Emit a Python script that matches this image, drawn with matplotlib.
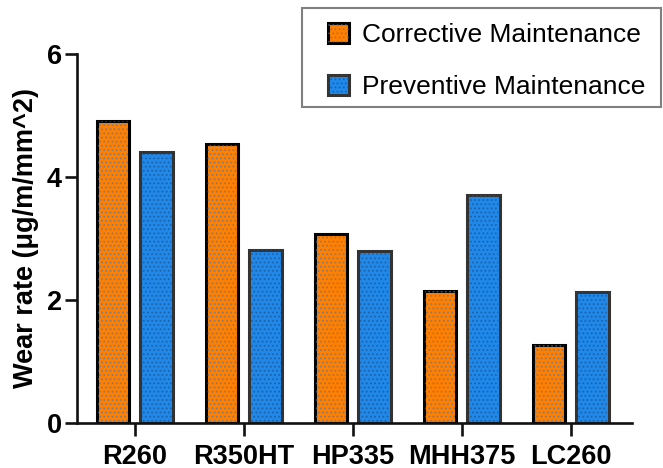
import matplotlib
matplotlib.use("Agg")
import matplotlib.pyplot as plt
from matplotlib.patches import Rectangle
import numpy as np

plt.rcParams['font.family'] = ['Liberation Sans', 'DejaVu Sans']
plt.rcParams['hatch.linewidth'] = 0.8

rails = ["R260", "R350HT", "HP335", "MHH375", "LC260"]
corrective = [4.91, 4.54, 3.07, 2.15, 1.27]
preventive = [4.41, 2.81, 2.79, 3.71, 2.13]

ORANGE = "#FF7F00"
BLUE = "#2088E8"

fig = plt.figure(figsize=(6.63, 4.68), dpi=100)
ax = fig.add_axes([0.1166, 0.0968, 0.8362, 0.7878])

x = np.arange(len(rails))
w = 0.295
off = 0.2

# solid bars with outlines
b1 = ax.bar(x - off, corrective, w, color=ORANGE, edgecolor="#000000",
            linewidth=2.2, zorder=2)
b2 = ax.bar(x + off, preventive, w, color=BLUE, edgecolor="#333333",
            linewidth=2.2, zorder=2)
# dotted texture on top (hatch colour follows edgecolor)
h1 = ax.bar(x - off, corrective, w - 0.02, facecolor="none", edgecolor="#4f78a8",
            linewidth=0, hatch="....", zorder=3, alpha=0.6)
h2 = ax.bar(x + off, preventive, w - 0.02, facecolor="none", edgecolor="#1d4f88",
            linewidth=0, hatch="....", zorder=3, alpha=0.6)

ax.set_xlim(-0.527, 4.56)
ax.set_ylim(0, 6)
ax.set_yticks([0, 2, 4, 6])
ax.set_xticks(x)
ax.set_xticklabels(rails)

for s in ["top", "right"]:
    ax.spines[s].set_visible(False)
for s in ["left", "bottom"]:
    ax.spines[s].set_linewidth(1.9)
    ax.spines[s].set_color("#111111")

ax.tick_params(axis="both", length=9, width=1.9, color="#111111", labelsize=19.5)
ax.tick_params(axis="x", pad=6)
ax.tick_params(axis="y", pad=2)
for lab in ax.get_xticklabels() + ax.get_yticklabels():
    lab.set_fontweight("bold")

ax.set_ylabel("Wear rate (μg/m/mm^2)", fontsize=19.5, fontweight="bold", labelpad=6)

# legend box drawn separately so the padding can be set freely
fig.patches.append(Rectangle((302 / 663, 1 - 107 / 468), 359 / 663, 99 / 468,
                             transform=fig.transFigure, facecolor="white",
                             edgecolor="#808080", linewidth=1.5, zorder=5))
leg = fig.legend(handles=[(b1.patches[0], h1.patches[0]), (b2.patches[0], h2.patches[0])],
                 labels=["Corrective Maintenance", "Preventive Maintenance"],
                 loc="upper left", bbox_to_anchor=(328 / 663, 1 - 23 / 468),
                 fontsize=19, frameon=False,
                 handlelength=0.8, handleheight=0.8, handletextpad=0.5,
                 borderpad=0, labelspacing=1.06, borderaxespad=0)
leg.set_zorder(6)

fig.savefig("out.png", dpi=100, facecolor="white")
